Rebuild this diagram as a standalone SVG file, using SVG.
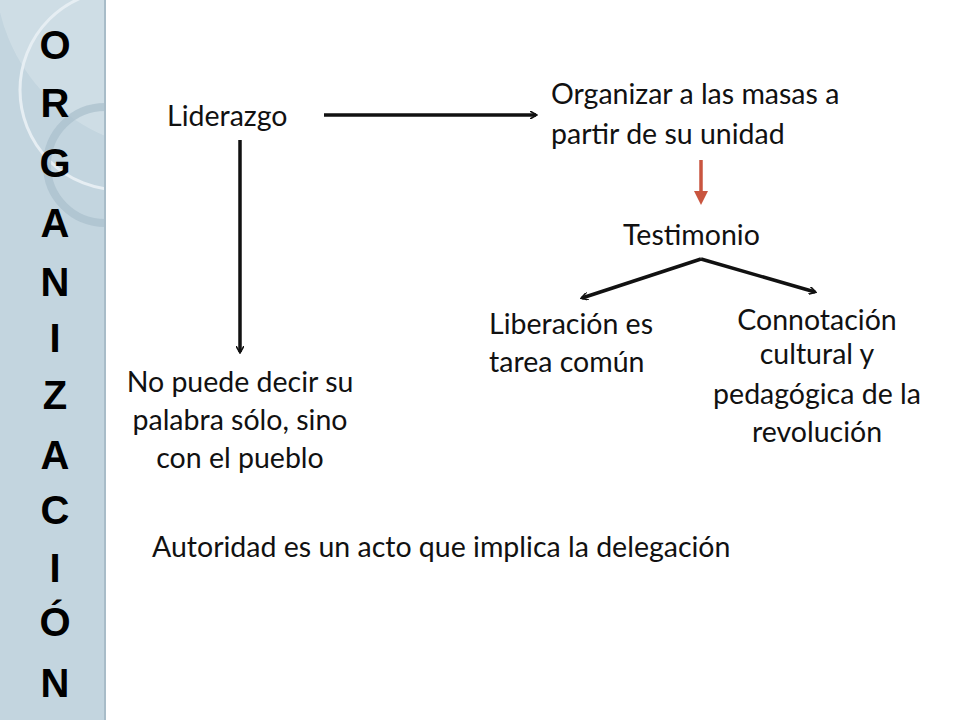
<svg xmlns="http://www.w3.org/2000/svg" width="960" height="720" viewBox="0 0 960 720">
<defs>
<style>
.t{font-family:Lato,"Open Sans",sans-serif;font-size:28.5px;fill:#111}
.s{font-family:"Liberation Sans",sans-serif;font-weight:bold;font-size:40px;fill:#000;text-anchor:middle}
.c{stroke:#111;stroke-width:3.5;fill:none}
</style>
<clipPath id="cp"><rect x="0" y="0" width="106" height="720"/></clipPath>
<marker id="a" markerWidth="8" markerHeight="8" refX="6" refY="4" orient="auto" markerUnits="userSpaceOnUse" viewBox="0 0 8 8"><path d="M0,0 L7,4 L0,8" fill="none" stroke="#111" stroke-width="1.6"/></marker>
<marker id="ar" markerWidth="18" markerHeight="18" refX="9" refY="9" orient="auto" markerUnits="userSpaceOnUse" viewBox="0 0 18 18"><path d="M0,2 L14,9 L0,16 z" fill="#c9553f"/></marker>
</defs>
<rect width="960" height="720" fill="#fff"/>
<g id="sidebar">
<rect x="0" y="0" width="106" height="720" fill="#c3d5df"/>
<g clip-path="url(#cp)">
<circle cx="175" cy="-30" r="180" fill="#d6e3ea" opacity="0.6"/>
<circle cx="120" cy="90" r="100" fill="none" stroke="#e6eef3" stroke-width="3"/>
<circle cx="105" cy="165" r="58" fill="none" stroke="#a9bfcc" stroke-width="8" opacity="0.7"/>
</g>
<rect x="104" y="0" width="2" height="720" fill="#a8bcc8"/>
<text class="s" x="55" y="59">O</text>
<text class="s" x="55" y="117">R</text>
<text class="s" x="55" y="177">G</text>
<text class="s" x="55" y="237">A</text>
<text class="s" x="55" y="296">N</text>
<text class="s" x="55" y="352">I</text>
<text class="s" x="55" y="409">Z</text>
<text class="s" x="55" y="469">A</text>
<text class="s" x="55" y="524">C</text>
<text class="s" x="55" y="582">I</text>
<text class="s" x="55" y="636">Ó</text>
<text class="s" x="55" y="697">N</text>
</g>
<g id="liderazgo"><text class="t" x="167" y="126">Liderazgo</text></g>
<g id="organizar"><text class="t" x="551" y="104">Organizar a las masas a</text><text class="t" x="551" y="144">partir de su unidad</text></g>
<g id="testimonio"><text class="t" x="623" y="245">Testimonio</text></g>
<g id="liberacion"><text class="t" x="489" y="334">Liberación es</text><text class="t" x="489" y="372">tarea común</text></g>
<g id="connotacion" text-anchor="middle"><text class="t" x="817" y="330">Connotación</text><text class="t" x="817" y="364">cultural y</text><text class="t" x="817" y="404">pedagógica de la</text><text class="t" x="817" y="442">revolución</text></g>
<g id="nopuede" text-anchor="middle"><text class="t" x="240" y="392">No puede decir su</text><text class="t" x="240" y="430">palabra sólo, sino</text><text class="t" x="240" y="468">con el pueblo</text></g>
<g id="autoridad"><text class="t" x="152" y="557">Autoridad es un acto que implica la delegación</text></g>
<g id="connectors">
<path class="c" d="M324,115 L536,115" marker-end="url(#a)"/>
<path class="c" d="M240,140 L240,352" marker-end="url(#a)"/>
<path d="M701,160 L701,200" stroke="#c9553f" stroke-width="3.5" marker-end="url(#ar)"/>
<path class="c" d="M701,259 L582,298" marker-end="url(#a)"/>
<path class="c" d="M701,259 L815,292" marker-end="url(#a)"/>
</g>
</svg>
